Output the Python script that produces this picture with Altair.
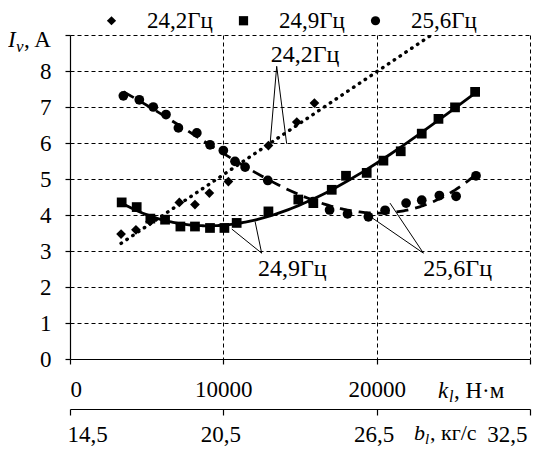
import altair as alt
import pandas as pd

# ---------------- data ----------------
series_names = ["24,2Гц", "24,9Гц", "25,6Гц"]
series_shapes = ["diamond", "square", "circle"]

k_242 = [3330, 4300, 5220, 7130, 8150, 9090, 10330, 12940, 14790, 15940]
I_242 = [3.47, 3.59, 3.82, 4.35, 4.29, 4.61, 4.93, 5.93, 6.58, 7.11]

k_249 = [3370, 4350, 5240, 6200, 7200, 8150, 9130, 10070, 10870, 12940, 14890,
         15870, 17070, 18000, 19350, 20440, 21570, 22940, 24030, 25110, 26420]
I_249 = [4.35, 4.22, 3.90, 3.87, 3.68, 3.68, 3.64, 3.64, 3.78, 4.10, 4.43,
         4.33, 4.70, 5.09, 5.17, 5.51, 5.77, 6.26, 6.67, 6.99, 7.42]

k_256 = [3480, 4520, 5430, 6260, 7070, 8270, 9130, 10000, 10760, 11420, 12900,
         15850, 16930, 18100, 19460, 20550, 21920, 22940, 24090, 25180, 26480]
I_256 = [7.31, 7.20, 7.00, 6.79, 6.42, 6.28, 5.95, 5.79, 5.49, 5.33, 4.96,
         4.37, 4.14, 4.03, 3.95, 4.13, 4.33, 4.41, 4.54, 4.52, 5.09]

# trend-line extents (x range of each fitted curve)
extent_242 = [3330, 24500]
extent_249 = [3370, 26420]
extent_256 = [3480, 26480]

# axes
k_ticks = [0, 10000, 20000, 30000]
k_tick_labels = ["0", "10000", "20000", ""]
b_tick_labels = ["14,5", "20,5", "26,5", "32,5"]
y_ticks = [0, 1, 2, 3, 4, 5, 6, 7, 8, 9]

# callout annotations
call_text = ["24,2Гц", "24,9Гц", "25,6Гц"]
call_text_k = [15330, 14500, 25280]
call_text_I = [8.45, 2.5, 2.5]
call_k1 = [13480, 13480, 12500, 12500, 23050, 23050]
call_I1 = [8.13, 8.13, 2.94, 2.94, 2.94, 2.94]
call_k2 = [13040, 14130, 10550, 12070, 19570, 20870]
call_I2 = [5.92, 5.98, 3.61, 3.82, 3.96, 4.33]

FONT = "Liberation Serif"
FS = 23      # tick labels / titles
FS_T = 24    # callout texts
FS_L = 23    # legend labels

df = pd.concat([
    pd.DataFrame({"k": k_242, "I": I_242, "s": series_names[0]}),
    pd.DataFrame({"k": k_249, "I": I_249, "s": series_names[1]}),
    pd.DataFrame({"k": k_256, "I": I_256, "s": series_names[2]}),
], ignore_index=True)

xscale = alt.Scale(domain=[0, 30000], nice=False, zero=False)
yscale = alt.Scale(domain=[0, 9], nice=False, zero=False)

k_label_expr = " : ".join(
    f"datum.value == {v} ? '{l}'" for v, l in zip(k_ticks, k_tick_labels)) + " : ''"
b_label_expr = " : ".join(
    f"datum.value == {v} ? '{l}'" for v, l in zip(k_ticks, b_tick_labels)) + " : ''"

no_zero_grid = {"condition": {"test": "datum.value == 0", "value": 0}, "value": 1}

x_axis = alt.Axis(values=k_ticks, labelExpr=k_label_expr, tickSize=5,
                  labelPadding=14, grid=True, gridOpacity=no_zero_grid, orient="bottom")
y_axis = alt.Axis(values=y_ticks, format="d",
                  labelExpr="datum.value >= 9 ? '' : datum.label",
                  tickSize=5, labelPadding=14, grid=True, gridOpacity=no_zero_grid)


def X(field):
    return alt.X(field, scale=xscale, title=None, axis=x_axis)


def Y(field):
    return alt.Y(field, scale=yscale, title=None, axis=y_axis)


base = alt.Chart(df)

points = base.mark_point(filled=True, color="black", opacity=1, size=95).encode(
    x=X("k:Q"), y=Y("I:Q"),
    shape=alt.Shape("s:N", scale=alt.Scale(domain=series_names, range=series_shapes),
                    legend=alt.Legend(title=None, orient="none", direction="horizontal",
                                      legendX=30, legendY=-26, labelFont=FONT,
                                      labelFontSize=FS_L, labelColor="black",
                                      symbolSize=85, symbolFillColor="black",
                                      symbolStrokeColor="black", labelOffset=24,
                                      columnPadding=19, padding=0, labelLimit=300)),
)


def trend(name, extent, method, order, **style):
    params = dict(method=method, extent=extent)
    if method == "poly":
        params["order"] = order
    return base.transform_filter(alt.datum.s == name).transform_regression(
        "k", "I", **params
    ).mark_line(color="black", clip=True, **style).encode(x=X("k:Q"), y=Y("I:Q"))


t242 = trend(series_names[0], extent_242, "linear", 1,
             strokeDash=[0.5, 6.5], strokeCap="round", strokeWidth=3.4)
t249 = trend(series_names[1], extent_249, "poly", 3, strokeWidth=2.8)
t256 = trend(series_names[2], extent_256, "poly", 3, strokeDash=[12, 7], strokeWidth=2.8)

callout_df = pd.DataFrame({"k1": call_k1, "I1": call_I1, "k2": call_k2, "I2": call_I2})
callouts = alt.Chart(callout_df).mark_rule(color="black", strokeWidth=1).encode(
    x=X("k1:Q"), y=Y("I1:Q"), x2="k2:Q", y2="I2:Q")

text_df = pd.DataFrame({"k": call_text_k, "I": call_text_I, "t": call_text})
texts = alt.Chart(text_df).mark_text(font=FONT, fontSize=FS_T, color="black",
                                     align="center", baseline="middle").encode(
    x=X("k:Q"), y=Y("I:Q"), text="t:N")


# axis titles with italic symbols and subscripts
def label(txt, x, y, size=FS, style="normal"):
    return alt.Chart(pd.DataFrame({"t": [txt]})).mark_text(
        font=FONT, fontSize=size, fontStyle=style, color="black",
        align="left", baseline="alphabetic").encode(
        x=alt.value(x), y=alt.value(y), text="t:N")


titles = [
    label("I", -62, 12, style="italic"),
    label("v", -54, 17, size=17, style="italic"),
    label(", A", -46, 12),
    label("k", 368, 363, style="italic"),
    label("l", 379, 367, size=16, style="italic"),
    label(", Н·м", 384, 363),
    label("b", 344, 405, size=22, style="italic"),
    label("l", 355, 409, size=15, style="italic"),
    label(", кг/с", 360, 405, size=22),
]

inner = alt.layer(t242, t249, t256, points, callouts, texts, *titles)

second = alt.Chart(pd.DataFrame({"k": k_ticks})).mark_point(opacity=0).encode(
    x=alt.X("k:Q", scale=xscale, title=None,
            axis=alt.Axis(values=k_ticks, labelExpr=b_label_expr, offset=50,
                          orient="bottom", tickSize=6, labelPadding=8, grid=False,
                          labelOffset=-3)))

chart = alt.layer(inner, second).resolve_scale(x="independent").properties(
    width=460, height=324,
    autosize=alt.AutoSizeParams(type="none"),
    padding={"left": 62, "top": 27, "right": 15, "bottom": 90},
).configure_view(stroke=None).configure_axis(
    domainColor="black", tickColor="black", labelColor="black",
    labelFont=FONT, labelFontSize=FS, gridColor="black", gridDash=[4, 3],
    gridWidth=1, domainWidth=1.2, tickWidth=1.2,
)

chart.save("out.html", embed_options={"renderer": "svg", "actions": False})
